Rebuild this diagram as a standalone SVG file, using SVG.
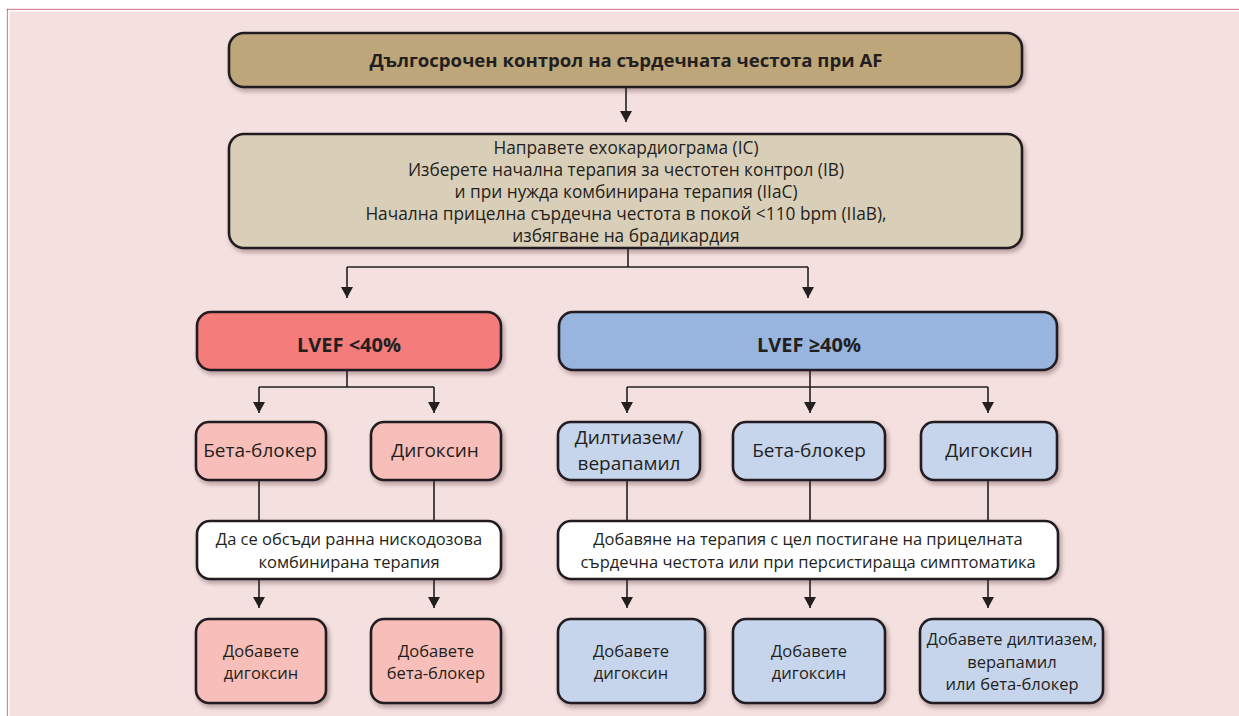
<svg xmlns="http://www.w3.org/2000/svg" width="1239" height="716" viewBox="0 0 1239 716">
  <defs>
    <filter id="shadow" x="-10%" y="-20%" width="130%" height="150%">
      <feDropShadow dx="2" dy="3" stdDeviation="2.2" flood-color="#3a1a1a" flood-opacity="0.35"/>
    </filter>
    <marker id="arrow" viewBox="0 0 11 12" refX="11" refY="6" markerWidth="11" markerHeight="12" markerUnits="userSpaceOnUse" orient="auto">
      <path d="M0,0 L11,6 L0,12 Z" fill="#231F20"/>
    </marker>
  </defs>
  <style>
    .box { stroke: #231F20; stroke-width: 2.6; filter: url(#shadow); }
    .title { fill: #BDA77A; }
    .intro { fill: #D9CEB7; }
    .red { fill: #F47B7A; }
    .pink { fill: #F8BEB9; }
    .blue { fill: #97B5DE; }
    .lblue { fill: #C6D4EC; }
    .white { fill: #FFFFFF; }
    text { font-family: "Open Sans", "Noto Sans", "DejaVu Sans", sans-serif; fill: #231F20; text-anchor: middle; font-size: 16.5px; }
    .body { font-size: 17.3px; }
    .drug { font-size: 19px; }
    .head { font-weight: bold; font-size: 18.6px; }
    .lvef { font-weight: bold; font-size: 20px; }
    .conn { stroke: #231F20; stroke-width: 1.6; fill: none; }
    .arr { marker-end: url(#arrow); }
  </style>

  <!-- panel background -->
  <rect x="0" y="0" width="1239" height="716" fill="#FFFFFF"/>
  <rect x="7.5" y="9.5" width="1240" height="720" fill="#F3E0DF" stroke="#B0113A" stroke-width="1.2"/>
  <rect x="8.5" y="10.5" width="1240" height="720" fill="none" stroke="#FFFFFF" stroke-width="2"/>

  <!-- connectors -->
  <g id="connectors">
    <path class="conn arr" d="M626,87 V122"/>
    <path class="conn" d="M628,248 V267 M347,267 H808"/>
    <path class="conn arr" d="M347,267 V298"/>
    <path class="conn arr" d="M808,267 V298"/>

    <path class="conn" d="M347,370 V387 M259,387 H434"/>
    <path class="conn arr" d="M259,387 V413"/>
    <path class="conn arr" d="M434,387 V413"/>

    <path class="conn arr" d="M810,370 V413"/>
    <path class="conn" d="M627,387 H988"/>
    <path class="conn arr" d="M627,387 V413"/>
    <path class="conn arr" d="M988,387 V413"/>

    <path class="conn" d="M259,480 V521 M434,480 V521 M627,480 V521 M810,480 V521 M988,480 V521"/>

    <path class="conn arr" d="M259,580 V608"/>
    <path class="conn arr" d="M434,580 V608"/>
    <path class="conn arr" d="M627,580 V608"/>
    <path class="conn arr" d="M810,580 V608"/>
    <path class="conn arr" d="M988,580 V608"/>
  </g>

  <!-- header -->
  <g id="n-title">
    <rect class="box title" x="229" y="33" width="793" height="54" rx="15"/>
    <text class="head" x="626" y="67">Дългосрочен контрол на сърдечната честота при AF</text>
  </g>

  <g id="n-initial">
    <rect class="box intro" x="229" y="134" width="793" height="114" rx="15"/>
    <text class="body" x="626" y="154">Направете ехокардиограма (IC)</text>
    <text class="body" x="626" y="176">Изберете начална терапия за честотен контрол (IB)</text>
    <text class="body" x="626" y="198">и при нужда комбинирана терапия (IIaC)</text>
    <text class="body" x="626" y="220">Начална прицелна сърдечна честота в покой &lt;110 bpm (IIaB),</text>
    <text class="body" x="626" y="242">избягване на брадикардия</text>
  </g>

  <!-- reduced ejection fraction branch -->
  <g id="n-lvef-low">
    <rect class="box red" x="197" y="312" width="304" height="58" rx="14"/>
    <text class="lvef" x="349" y="352">LVEF &lt;40%</text>
  </g>
  <g id="n-low-bb">
    <rect class="box pink" x="196" y="422" width="130" height="58" rx="13"/>
    <text class="drug" x="260" y="457">Бета-блокер</text>
  </g>
  <g id="n-low-dig">
    <rect class="box pink" x="371" y="422" width="130" height="58" rx="13"/>
    <text class="drug" x="435" y="457">Дигоксин</text>
  </g>
  <g id="n-low-combo">
    <rect class="box white" x="197" y="521" width="304" height="58" rx="13"/>
    <text x="349" y="545">Да се обсъди ранна нискодозова</text>
    <text x="349" y="568">комбинирана терапия</text>
  </g>
  <g id="n-low-add-dig">
    <rect class="box pink" x="196" y="619" width="130" height="84" rx="13"/>
    <text x="261" y="657">Добавете</text>
    <text x="261" y="679">дигоксин</text>
  </g>
  <g id="n-low-add-bb">
    <rect class="box pink" x="371" y="619" width="130" height="84" rx="13"/>
    <text x="436" y="657">Добавете</text>
    <text x="436" y="679">бета-блокер</text>
  </g>

  <!-- preserved ejection fraction branch -->
  <g id="n-lvef-high">
    <rect class="box blue" x="559" y="312" width="498" height="58" rx="14"/>
    <text class="lvef" x="809" y="352">LVEF ≥40%</text>
  </g>
  <g id="n-high-dv">
    <rect class="box lblue" x="558" y="422" width="142" height="58" rx="13"/>
    <text class="drug" x="629" y="444">Дилтиазем/</text>
    <text class="drug" x="629" y="470">верапамил</text>
  </g>
  <g id="n-high-bb">
    <rect class="box lblue" x="733" y="422" width="152" height="58" rx="13"/>
    <text class="drug" x="809" y="457">Бета-блокер</text>
  </g>
  <g id="n-high-dig">
    <rect class="box lblue" x="921" y="422" width="136" height="58" rx="13"/>
    <text class="drug" x="989" y="457">Дигоксин</text>
  </g>
  <g id="n-high-add">
    <rect class="box white" x="558" y="521" width="500" height="58" rx="13"/>
    <text x="808" y="545">Добавяне на терапия с цел постигане на прицелната</text>
    <text x="808" y="568">сърдечна честота или при персистираща симптоматика</text>
  </g>
  <g id="n-high-add-dig1">
    <rect class="box lblue" x="558" y="619" width="147" height="84" rx="13"/>
    <text x="631" y="657">Добавете</text>
    <text x="631" y="679">дигоксин</text>
  </g>
  <g id="n-high-add-dig2">
    <rect class="box lblue" x="733" y="619" width="152" height="84" rx="13"/>
    <text x="809" y="657">Добавете</text>
    <text x="809" y="679">дигоксин</text>
  </g>
  <g id="n-high-add-any">
    <rect class="box lblue" x="920" y="619" width="183" height="84" rx="13"/>
    <text x="1012" y="645">Добавете дилтиазем,</text>
    <text x="1012" y="668">верапамил</text>
    <text x="1012" y="690">или бета-блокер</text>
  </g>
</svg>
